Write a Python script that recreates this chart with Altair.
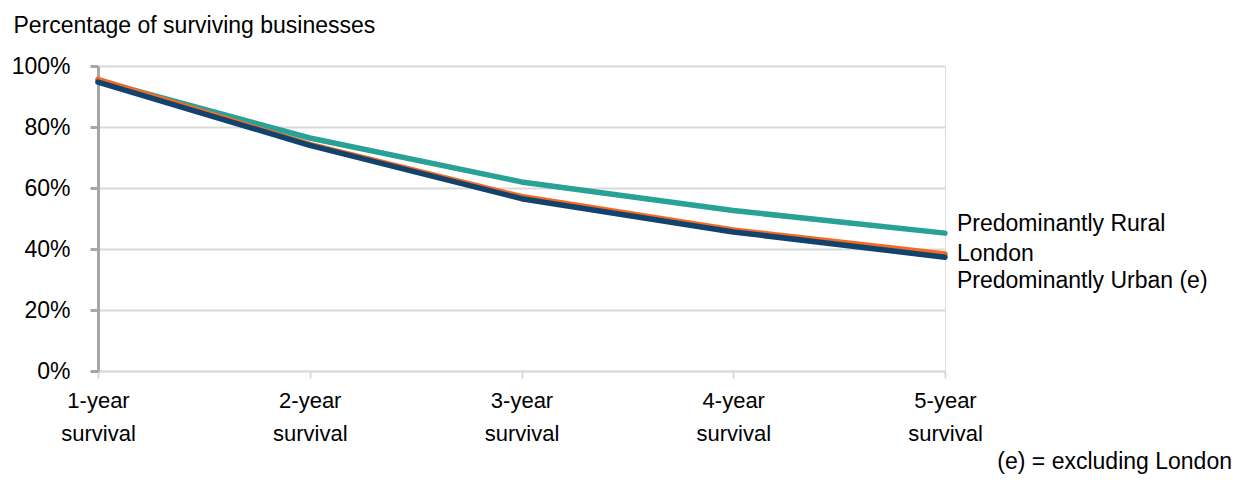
import altair as alt
import pandas as pd

categories = ["1-year survival", "2-year survival", "3-year survival", "4-year survival", "5-year survival"]
series_names = ["Predominantly Rural", "London", "Predominantly Urban (e)"]
rural = [95.3, 76.4, 62.0, 52.6, 45.2]
london = [95.6, 74.3, 57.2, 46.2, 38.4]
urban = [94.7, 74.0, 56.5, 45.6, 37.3]
colors = ["#28A197", "#F46A25", "#12436D"]
label_dy = [-9, 0, 24]
y_ticks = [0, 20, 40, 60, 80, 100]
y_title = "Percentage of surviving businesses"
footnote = "(e) = excluding London"

rows = []
for name, vals in zip(series_names, [rural, london, urban]):
    for c, v in zip(categories, vals):
        rows.append({"stage": c, "series": name, "value": v})
df = pd.DataFrame(rows)

FONT = "Liberation Sans"
FS = 23

x_enc = alt.X(
    "stage:N",
    sort=categories,
    scale=alt.Scale(type="point", padding=0),
    axis=alt.Axis(
        title=None, labelAngle=0, labelExpr="split(datum.label, ' ')",
        labelFontSize=22, labelLineHeight=33, labelPadding=12, labelBaseline="top",
        tickSize=7, tickColor="#d9d9d9", tickWidth=2,
        domainColor="#d9d9d9", domainWidth=2, labelColor="black",
        labelFont=FONT, grid=False,
    ),
)
y_enc = alt.Y(
    "value:Q",
    scale=alt.Scale(domain=[0, 100], nice=False),
    axis=alt.Axis(
        values=y_ticks, labelExpr="datum.value + '%'",
        title=y_title, titleAngle=0, titleX=-85, titleY=-34,
        titleAlign="left", titleBaseline="alphabetic", titleFontSize=FS,
        titleFontWeight="normal", titleFont=FONT, titleColor="black",
        gridColor="#d9d9d9", gridWidth=2,
        domainColor="#a6a6a6", domainWidth=3,
        tickColor="#a6a6a6", tickWidth=3, tickSize=8,
        labelPadding=20, labelFontSize=FS, labelFont=FONT, labelColor="black",
    ),
)

base = alt.Chart(df)
layers = []
for name, col in zip(series_names, colors):
    layers.append(
        base.transform_filter(alt.datum.series == name)
        .mark_line(color=col, strokeWidth=5.5, strokeCap="round", strokeJoin="round")
        .encode(x=x_enc, y=y_enc)
    )
for name, dy in zip(series_names, label_dy):
    layers.append(
        base.transform_filter((alt.datum.series == name) & (alt.datum.stage == categories[-1]))
        .mark_text(align="left", baseline="middle", dx=12, dy=dy, fontSize=FS, font=FONT, color="black")
        .encode(x=x_enc, y=y_enc, text="series:N")
    )
layers.append(
    alt.Chart(pd.DataFrame({"t": [footnote]}))
    .mark_text(align="right", baseline="middle", fontSize=FS, font=FONT, color="black")
    .encode(x=alt.value(1134), y=alt.value(396), text="t:N")
)

chart = alt.layer(*layers).properties(
    width=847, height=305,
    autosize=alt.AutoSizeParams(type="none"),
    padding={"left": 90, "top": 58, "right": 297, "bottom": 105},
).configure_view(stroke=None).configure(font=FONT)

chart.save("out.html", embed_options={"renderer": "svg", "actions": False})
